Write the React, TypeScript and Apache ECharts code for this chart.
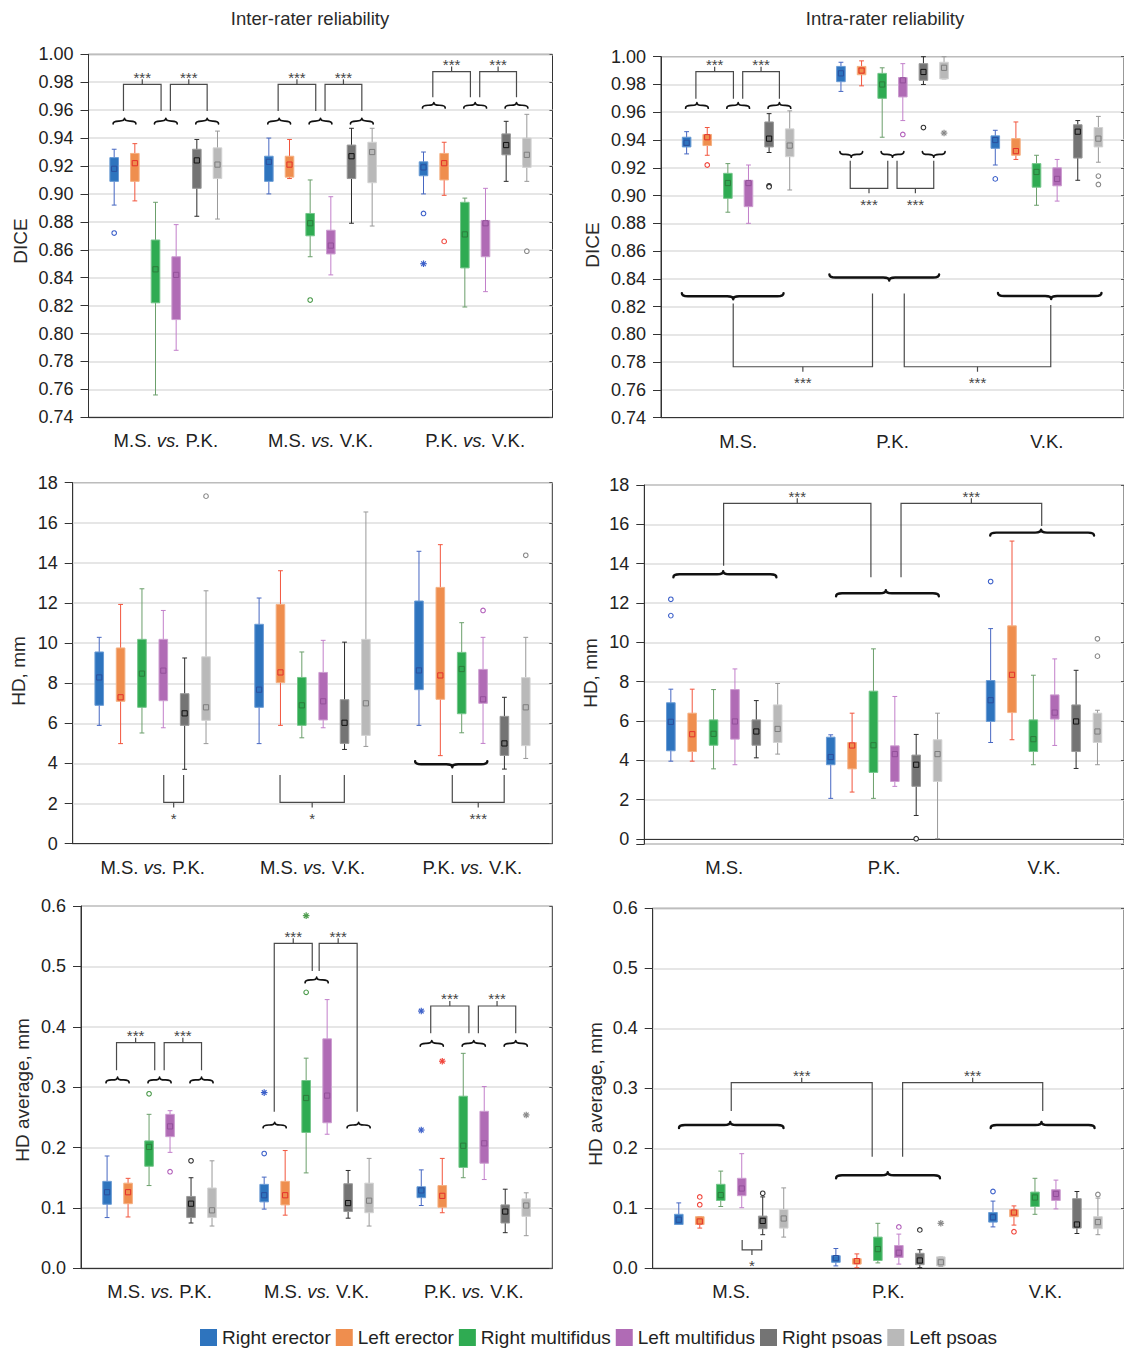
import React, { useEffect, useRef } from 'react';
import * as echarts from 'echarts';

const FONT = '"Liberation Sans", Arial, Helvetica, sans-serif';

const MUSCLES = ['Right erector', 'Left erector', 'Right multifidus', 'Left multifidus', 'Right psoas', 'Left psoas'];
const INTER_CATS = ['M.S. vs. P.K.', 'M.S. vs. V.K.', 'P.K. vs. V.K.'];
const INTRA_CATS = ['M.S.', 'P.K.', 'V.K.'];

// each box: [lower whisker, Q1, Q3, upper whisker, mean]; order of muscles as MUSCLES; 3 categories each
const diceInter = [
  [[0.892, 0.909, 0.926, 0.932, 0.918], [0.900, 0.909, 0.927, 0.940, 0.923], [0.900, 0.913, 0.923, 0.930, 0.919]],
  [[0.895, 0.909, 0.929, 0.936, 0.922], [0.911, 0.912, 0.927, 0.939, 0.921], [0.899, 0.910, 0.929, 0.937, 0.922]],
  [[0.756, 0.822, 0.867, 0.894, 0.846], [0.855, 0.870, 0.886, 0.910, 0.879], [0.819, 0.847, 0.894, 0.897, 0.871]],
  [[0.788, 0.810, 0.855, 0.878, 0.842], [0.842, 0.857, 0.874, 0.898, 0.863], [0.830, 0.855, 0.881, 0.904, 0.879]],
  [[0.884, 0.904, 0.932, 0.939, 0.924], [0.879, 0.911, 0.935, 0.947, 0.927], [0.909, 0.928, 0.943, 0.952, 0.935]],
  [[0.882, 0.911, 0.933, 0.945, 0.921], [0.877, 0.908, 0.937, 0.947, 0.930], [0.909, 0.919, 0.940, 0.957, 0.928]],
];
const diceIntra = [
  [[0.930, 0.935, 0.942, 0.946, 0.938], [0.975, 0.982, 0.993, 0.996, 0.988], [0.922, 0.934, 0.943, 0.947, 0.940]],
  [[0.929, 0.936, 0.944, 0.949, 0.942], [0.979, 0.987, 0.993, 0.997, 0.990], [0.926, 0.929, 0.941, 0.953, 0.932]],
  [[0.888, 0.898, 0.916, 0.923, 0.909], [0.942, 0.970, 0.988, 0.992, 0.980], [0.893, 0.906, 0.923, 0.929, 0.917]],
  [[0.880, 0.892, 0.911, 0.922, 0.909], [0.954, 0.971, 0.985, 0.995, 0.983], [0.896, 0.907, 0.920, 0.926, 0.912]],
  [[0.931, 0.935, 0.953, 0.959, 0.941], [0.980, 0.983, 0.995, 1.000, 0.989], [0.911, 0.927, 0.951, 0.954, 0.946]],
  [[0.904, 0.928, 0.948, 0.961, 0.936], [0.984, 0.984, 0.996, 1.000, 0.992], [0.924, 0.935, 0.949, 0.957, 0.941]],
];
const hdInter = [
  [[5.9, 6.9, 9.56, 10.29, 8.29], [4.99, 6.8, 10.94, 12.25, 7.68], [5.9, 7.68, 12.1, 14.58, 8.64]],
  [[4.99, 7.1, 9.76, 11.93, 7.3], [5.9, 8.03, 11.93, 13.61, 8.54], [4.39, 7.2, 12.78, 14.91, 8.39]],
  [[5.52, 6.8, 10.19, 12.71, 8.48], [5.28, 5.9, 8.29, 9.56, 6.9], [5.53, 6.48, 9.54, 11.02, 8.71]],
  [[5.78, 7.13, 10.19, 11.63, 8.63], [5.78, 6.17, 8.54, 10.14, 7.1], [5.0, 7.0, 8.69, 10.29, 7.2]],
  [[3.71, 5.9, 7.48, 9.26, 6.5], [4.7, 5.0, 7.18, 10.05, 6.03], [3.72, 4.4, 6.35, 7.3, 5.0]],
  [[4.99, 6.15, 9.32, 12.61, 6.8], [4.85, 5.4, 10.19, 16.54, 7.0], [4.25, 4.89, 8.28, 10.29, 6.8]],
];
const hdIntra = [
  [[3.96, 4.49, 6.93, 7.62, 5.96], [2.07, 3.78, 5.18, 5.3, 4.17], [4.91, 5.98, 8.06, 10.7, 7.06]],
  [[3.96, 4.45, 6.4, 7.62, 5.33], [2.39, 3.57, 4.91, 6.4, 4.76], [5.05, 6.43, 10.84, 15.15, 8.35]],
  [[3.57, 4.77, 6.06, 7.6, 5.35], [2.07, 3.39, 7.52, 9.67, 4.77], [3.78, 4.45, 6.06, 8.33, 5.08]],
  [[3.78, 5.08, 7.6, 8.65, 5.98], [2.68, 2.93, 4.74, 7.25, 4.32], [4.76, 6.1, 7.33, 9.16, 6.43]],
  [[4.13, 4.77, 6.06, 7.04, 5.47], [1.2, 2.68, 4.27, 5.32, 3.78], [3.59, 4.45, 6.82, 8.58, 5.98]],
  [[4.32, 4.91, 6.82, 7.91, 5.6], [0.02, 2.93, 5.05, 6.4, 4.32], [3.78, 4.91, 6.4, 6.55, 5.47]],
];
const avgInter = [
  [[0.084, 0.106, 0.144, 0.186, 0.126], [0.098, 0.110, 0.139, 0.151, 0.121], [0.104, 0.117, 0.135, 0.163, 0.129]],
  [[0.085, 0.107, 0.141, 0.149, 0.126], [0.088, 0.105, 0.144, 0.195, 0.121], [0.092, 0.101, 0.137, 0.182, 0.120]],
  [[0.137, 0.169, 0.211, 0.255, 0.201], [0.158, 0.225, 0.311, 0.348, 0.282], [0.150, 0.167, 0.285, 0.356, 0.203]],
  [[0.192, 0.218, 0.255, 0.261, 0.235], [0.222, 0.241, 0.380, 0.445, 0.286], [0.147, 0.174, 0.260, 0.301, 0.207]],
  [[0.075, 0.084, 0.119, 0.150, 0.107], [0.083, 0.094, 0.140, 0.162, 0.108], [0.059, 0.075, 0.105, 0.131, 0.094]],
  [[0.070, 0.084, 0.133, 0.178, 0.096], [0.070, 0.092, 0.141, 0.182, 0.112], [0.054, 0.086, 0.115, 0.125, 0.104]],
];
const avgIntra = [
  [[0.073, 0.073, 0.090, 0.109, 0.081], [0.004, 0.010, 0.021, 0.033, 0.017], [0.069, 0.077, 0.093, 0.112, 0.085]],
  [[0.067, 0.073, 0.086, 0.086, 0.078], [0.001, 0.007, 0.016, 0.024, 0.012], [0.072, 0.086, 0.098, 0.104, 0.093]],
  [[0.103, 0.113, 0.140, 0.162, 0.122], [0.009, 0.013, 0.052, 0.075, 0.032], [0.090, 0.103, 0.127, 0.150, 0.118]],
  [[0.101, 0.121, 0.150, 0.191, 0.133], [0.007, 0.018, 0.038, 0.057, 0.026], [0.099, 0.113, 0.131, 0.147, 0.124]],
  [[0.056, 0.066, 0.087, 0.119, 0.079], [0.001, 0.006, 0.025, 0.031, 0.013], [0.058, 0.067, 0.116, 0.128, 0.073]],
  [[0.052, 0.067, 0.098, 0.134, 0.083], [0.003, 0.004, 0.019, 0.019, 0.010], [0.056, 0.066, 0.086, 0.117, 0.077]],
];

// outliers: [category, muscle, value, kind (0 = circle, 1 = asterisk)]
const diceInterOut = [[0, 0, 0.872, 0], [1, 2, 0.824, 0], [2, 0, 0.886, 0], [2, 0, 0.850, 1], [2, 1, 0.866, 0], [2, 5, 0.859, 0]];
const diceIntraOut = [[0, 1, 0.922, 0], [0, 4, 0.907, 0], [0, 4, 0.9064, 0], [1, 3, 0.944, 0], [1, 4, 0.949, 0], [1, 5, 0.945, 1], [2, 0, 0.912, 0], [2, 5, 0.914, 0], [2, 5, 0.908, 0]];
const hdInterOut = [[0, 5, 17.33, 0], [2, 3, 11.63, 0], [2, 5, 14.38, 0]];
const hdIntraOut = [[0, 0, 12.19, 0], [0, 0, 11.36, 0], [1, 4, 0.02, 0], [2, 0, 13.09, 0], [2, 5, 10.18, 0], [2, 5, 9.3, 0]];
const avgInterOut = [[0, 2, 0.289, 0], [0, 3, 0.160, 0], [0, 4, 0.178, 0], [1, 0, 0.190, 0], [1, 0, 0.291, 1], [1, 2, 0.457, 0], [1, 2, 0.584, 1], [2, 0, 0.426, 1], [2, 0, 0.229, 1], [2, 1, 0.343, 1], [2, 5, 0.254, 1]];
const avgIntraOut = [[0, 1, 0.119, 0], [0, 1, 0.106, 0], [0, 4, 0.125, 0], [1, 3, 0.069, 0], [1, 4, 0.064, 0], [1, 5, 0.075, 1], [2, 0, 0.128, 0], [2, 1, 0.061, 0], [2, 5, 0.123, 0]];

// significance marks (braces & brackets), positioned in muscle-slot units within a category
const pairBraces = (c: number, y: number, dir: number) => [0, 2, 4].map((k) => ({ t: 'brace', c, s0: k - 0.05, s1: k + 1.05, st: k + 0.5, y, dir }));
const pairBrackets = (c: number, y0: number, yb: number, label: string) => [
  { t: 'bracket', c0: c, s0: 0.45, y0, c1: c, s1: 2.27, y1: y0, yb, label },
  { t: 'bracket', c0: c, s0: 2.72, y0, c1: c, s1: 4.5, y1: y0, yb, label },
];
const diceInterMarks = [
  ...pairBraces(0, 0.9522, 1), ...pairBrackets(0, 0.9594, 0.9785, '***'),
  ...pairBraces(1, 0.9522, 1), ...pairBrackets(1, 0.9594, 0.9785, '***'),
  ...pairBraces(2, 0.9635, 1), ...pairBrackets(2, 0.9692, 0.9876, '***'),
];
const diceIntraMarks = [
  ...pairBraces(0, 0.9649, 1), ...pairBrackets(0, 0.9697, 0.9892, '***'),
  ...pairBraces(1, 0.9296, -1), ...pairBrackets(1, 0.925, 0.9052, '***'),
  { t: 'brace', c: 0, s0: -0.23, s1: 4.7, st: 2.26, y: 0.8275, dir: -1, big: true },
  { t: 'brace', c: 1, s0: -0.56, s1: 4.76, st: 2.34, y: 0.841, dir: -1, big: true },
  { t: 'brace', c: 2, s0: 0.13, s1: 5.15, st: 2.71, y: 0.8276, dir: -1, big: true },
  { t: 'bracket', c0: 0, s0: 2.26, y0: 0.8223, c1: 1, s1: 1.53, y1: 0.8295, yb: 0.7767, label: '***' },
  { t: 'bracket', c0: 1, s0: 3.07, y0: 0.8295, c1: 2, s1: 2.69, y1: 0.8211, yb: 0.7767, label: '***' },
];
const hdInterMarks = [
  { t: 'bracket', c0: 0, s0: 3.02, y0: 3.42, c1: 0, s1: 3.95, y1: 3.42, yb: 2.06, label: '*' },
  { t: 'bracket', c0: 1, s0: 0.98, y0: 3.42, c1: 1, s1: 3.99, y1: 3.42, yb: 2.06, label: '*' },
  { t: 'brace', c: 2, s0: -0.18, s1: 3.2, st: 1.56, y: 3.96, dir: -1, big: true },
  { t: 'bracket', c0: 2, s0: 1.56, y0: 3.42, c1: 2, s1: 3.99, y1: 3.42, yb: 2.06, label: '***' },
];
const hdIntraMarks = [
  { t: 'brace', c: 0, s0: 0.12, s1: 4.94, st: 2.45, y: 13.46, dir: 1, big: true },
  { t: 'brace', c: 1, s0: 0.25, s1: 5.06, st: 2.58, y: 12.5, dir: 1, big: true },
  { t: 'brace', c: 2, s0: -0.02, s1: 4.84, st: 2.36, y: 15.58, dir: 1, big: true },
  { t: 'bracket', c0: 0, s0: 2.47, y0: 13.9, c1: 1, s1: 1.88, y1: 13.31, yb: 17.07, label: '***' },
  { t: 'bracket', c0: 1, s0: 3.29, y0: 13.31, c1: 2, s1: 2.39, y1: 15.92, yb: 17.07, label: '***' },
];
const avgInterMarks = [
  ...pairBraces(0, 0.3119, 1), ...pairBrackets(0, 0.3279, 0.3737, '***'),
  { t: 'brace', c: 1, s0: -0.05, s1: 1.05, st: 0.5, y: 0.2373, dir: 1 },
  { t: 'brace', c: 1, s0: 1.95, s1: 3.05, st: 2.5, y: 0.4775, dir: 1 },
  { t: 'brace', c: 1, s0: 3.95, s1: 5.05, st: 4.5, y: 0.2373, dir: 1 },
  { t: 'bracket', c0: 1, s0: 0.48, y0: 0.2594, c1: 1, s1: 2.29, y1: 0.4923, yb: 0.5382, label: '***' },
  { t: 'bracket', c0: 1, s0: 2.62, y0: 0.4923, c1: 1, s1: 4.43, y1: 0.2594, yb: 0.5382, label: '***' },
  ...pairBraces(2, 0.3726, 1), ...pairBrackets(2, 0.3891, 0.4344, '***'),
];
const avgIntraMarks = [
  { t: 'brace', c: 0, s0: 0.01, s1: 4.99, st: 2.45, y: 0.2389, dir: 1, big: true },
  { t: 'brace', c: 1, s0: 0.01, s1: 4.96, st: 2.47, y: 0.155, dir: 1, big: true },
  { t: 'brace', c: 2, s0: -0.11, s1: 4.84, st: 2.31, y: 0.2389, dir: 1, big: true },
  { t: 'bracket', c0: 0, s0: 2.5, y0: 0.2622, c1: 1, s1: 1.73, y1: 0.1861, yb: 0.3094, label: '***' },
  { t: 'bracket', c0: 1, s0: 3.18, y0: 0.1861, c1: 2, s1: 2.37, y1: 0.2622, yb: 0.3094, label: '***' },
  { t: 'bracket', c0: 0, s0: 3.02, y0: 0.0472, c1: 0, s1: 3.95, y1: 0.0472, yb: 0.0306, label: '*' },
];

// styling
const BOX = ['#2E74BE', '#EF8E4E', '#2FAB52', '#B06BB5', '#747474', '#B9B9B9'];
const EDGE = ['#6A9BD4', '#F4B083', '#74C58A', '#CC9DD0', '#9A9A9A', '#D3D3D3'];
const WHISK = ['#4667C2', '#F2553D', '#6B9F6B', '#C27FCA', '#2B2B2B', '#999999'];
const MEAN = ['#2B4F9E', '#E4312B', '#2C7D3C', '#93509A', '#111111', '#7E7E7E'];
const OUT = ['#3B5FC9', '#F0443A', '#4A9A4A', '#B25FBA', '#333333', '#888888'];
const SLOT = 0.1336;

const PANELS = [
  { data: diceInter, out: diceInterOut, marks: diceInterMarks, cats: INTER_CATS, left: 88.5, top: 54.3, width: 464, height: 363, min: 0.74, max: 1.0, interval: 0.02, dec: 2 },
  { data: diceIntra, out: diceIntraOut, marks: diceIntraMarks, cats: INTRA_CATS, left: 661, top: 56.7, width: 465, height: 361, min: 0.74, max: 1.0, interval: 0.02, dec: 2 },
  { data: hdInter, out: hdInterOut, marks: hdInterMarks, cats: INTER_CATS, left: 72.7, top: 482.7, width: 479.6, height: 361, min: 0, max: 18, interval: 2, dec: 0 },
  { data: hdIntra, out: hdIntraOut, marks: hdIntraMarks, cats: INTRA_CATS, left: 644.3, top: 485, width: 481.7, height: 359, min: -0.25, max: 18, interval: null, dec: 0 },
  { data: avgInter, out: avgInterOut, marks: avgInterMarks, cats: INTER_CATS, left: 81, top: 906, width: 471.3, height: 362.3, min: 0, max: 0.6, interval: 0.1, dec: 1 },
  { data: avgIntra, out: avgIntraOut, marks: avgIntraMarks, cats: INTRA_CATS, left: 652.7, top: 908.3, width: 472.7, height: 360, min: 0, max: 0.6, interval: 0.1, dec: 1 },
];

const TEXTS = [
  { text: 'Inter-rater reliability', x: 310, y: 18, rot: 0, size: 18.5 },
  { text: 'Intra-rater reliability', x: 885, y: 18, rot: 0, size: 18.5 },
  { text: 'DICE', x: 20, y: 241, rot: 1, size: 19 },
  { text: 'DICE', x: 592, y: 245, rot: 1, size: 19 },
  { text: 'HD, mm', x: 18, y: 671, rot: 1, size: 19 },
  { text: 'HD, mm', x: 590, y: 673, rot: 1, size: 19 },
  { text: 'HD average, mm', x: 22, y: 1090, rot: 1, size: 19 },
  { text: 'HD average, mm', x: 595, y: 1094, rot: 1, size: 19 },
];

function slotX(api: any, cat: number, s: number) {
  const band = api.size([1, 0])[0];
  return api.coord([cat, 0])[0] + (s - 2.5) * band * SLOT;
}

function bracePath(x0: number, x1: number, xt: number, y: number, dir: number, h: number) {
  const d = dir === 1 ? -1 : 1; // screen direction of the tip
  const ye = y - d * h / 2;
  const yt = y + d * h / 2;
  const r = Math.min(h, (xt - x0) / 2, (x1 - xt) / 2);
  return `M${x0},${ye} Q${x0},${y} ${x0 + r},${y} L${xt - r},${y} Q${xt},${y} ${xt},${yt} Q${xt},${y} ${xt + r},${y} L${x1 - r},${y} Q${x1},${y} ${x1},${ye}`;
}

function boxRenderer(k: number) {
  return (params: any, api: any) => {
    const cat = api.value(0);
    const x = slotX(api, cat, k);
    const Y = (v: number) => api.coord([cat, v])[1];
    const lo = Y(api.value(1)), q1 = Y(api.value(2)), q3 = Y(api.value(3)), hi = Y(api.value(4)), mn = Y(api.value(5));
    const hw = 4.3, cw = 2.4, ms = 2.6;
    return {
      type: 'group',
      children: [
        { type: 'line', shape: { x1: x, y1: hi, x2: x, y2: lo }, style: { stroke: WHISK[k], lineWidth: 1 } },
        { type: 'line', shape: { x1: x - cw, y1: hi, x2: x + cw, y2: hi }, style: { stroke: WHISK[k], lineWidth: 1 } },
        { type: 'line', shape: { x1: x - cw, y1: lo, x2: x + cw, y2: lo }, style: { stroke: WHISK[k], lineWidth: 1 } },
        { type: 'rect', shape: { x: x - hw, y: q3, width: hw * 2, height: Math.max(q1 - q3, 0.5) }, style: { fill: BOX[k], stroke: EDGE[k], lineWidth: 1 } },
        { type: 'rect', shape: { x: x - ms, y: mn - ms, width: ms * 2, height: ms * 2 }, style: { fill: 'none', stroke: MEAN[k], lineWidth: 1 } },
      ],
    };
  };
}

function outlierRenderer(params: any, api: any) {
  const cat = api.value(0), k = api.value(1), v = api.value(2), kind = api.value(3);
  const x = slotX(api, cat, k);
  const y = api.coord([cat, v])[1];
  const col = OUT[k];
  if (kind === 0) {
    return { type: 'circle', shape: { cx: x, cy: y, r: 2.3 }, style: { fill: '#fff', stroke: col, lineWidth: 1.1 } };
  }
  const r = 3.3;
  return {
    type: 'group',
    children: [0, 1, 2, 3].map((i) => {
      const a = (i * Math.PI) / 4;
      return { type: 'line', shape: { x1: x - r * Math.cos(a), y1: y - r * Math.sin(a), x2: x + r * Math.cos(a), y2: y + r * Math.sin(a) }, style: { stroke: col, lineWidth: 1.2 } };
    }),
  };
}

function markRenderer(marks: any[]) {
  return (params: any, api: any) => {
    const m = marks[params.dataIndex];
    const Y = (v: number) => api.coord([0, v])[1];
    if (m.t === 'brace') {
      const x0 = slotX(api, m.c, m.s0), x1 = slotX(api, m.c, m.s1), xt = slotX(api, m.c, m.st);
      const h = m.big ? 6 : 5.5;
      return {
        type: 'path',
        shape: { pathData: bracePath(x0, x1, xt, Y(m.y), m.dir, h) },
        style: { fill: 'none', stroke: '#111', lineWidth: m.big ? 2.4 : 1.7, lineCap: 'round', lineJoin: 'round' },
      };
    }
    const xa = slotX(api, m.c0, m.s0), xb = slotX(api, m.c1, m.s1);
    const ya = Y(m.y0), yb = Y(m.y1), yBar = Y(m.yb);
    const up = yBar < ya;
    const xm = (xa + xb) / 2;
    const stemEnd = yBar + (up ? -5 : 5);
    const ty = up ? yBar - 7 : yBar + 16;
    return {
      type: 'group',
      children: [
        { type: 'polyline', shape: { points: [[xa, ya], [xa, yBar], [xb, yBar], [xb, yb]] }, style: { fill: 'none', stroke: '#4a4a4a', lineWidth: 1.2 } },
        { type: 'line', shape: { x1: xm, y1: yBar, x2: xm, y2: stemEnd }, style: { stroke: '#4a4a4a', lineWidth: 1.2 } },
        { type: 'text', x: xm, y: ty, style: { text: m.label, fill: '#444', fontSize: 15, fontFamily: FONT, textAlign: 'center', textVerticalAlign: 'middle' } },
      ],
    };
  };
}

function catFormatter(v: string) {
  const p = v.split(' vs. ');
  return p.length === 2 ? `{n|${p[0]} }{i|vs.}{n| ${p[1]}}` : `{n|${v}}`;
}

function buildOption() {
  const grid: any[] = [];
  const xAxis: any[] = [];
  const yAxis: any[] = [];
  const series: any[] = [];
  PANELS.forEach((p, i) => {
    grid.push({ left: p.left, top: p.top, width: p.width, height: p.height, show: true, borderColor: '#333', borderWidth: 1, backgroundColor: 'transparent' });
    xAxis.push({
      type: 'category', gridIndex: i, data: p.cats, boundaryGap: true,
      axisLine: { lineStyle: { color: '#333', width: 1 } },
      axisTick: { alignWithLabel: true, length: 8, lineStyle: { color: '#333' } },
      axisLabel: {
        interval: 0, margin: 14, formatter: catFormatter,
        rich: {
          n: { fontSize: 18.5, fontFamily: FONT, color: '#222' },
          i: { fontSize: 18.5, fontFamily: FONT, color: '#222', fontStyle: 'italic' },
        },
      },
      splitLine: { show: false },
    });
    const yBase: any = { type: 'value', gridIndex: i, min: p.min, max: p.max };
    if (p.interval) yBase.interval = p.interval; else yBase.splitNumber = 9;
    const fmt = (v: number) => (v < 0 ? '' : v.toFixed(p.dec));
    yAxis.push({
      ...yBase, position: 'left',
      axisLine: { show: true, lineStyle: { color: '#333', width: 1 } },
      axisTick: { show: true, length: 8, lineStyle: { color: '#333' } },
      axisLabel: { fontSize: 18, fontFamily: FONT, color: '#222', margin: 15, formatter: fmt },
      splitLine: { show: true, lineStyle: { color: '#dedede', width: 1.5 } },
    });
    yAxis.push({
      ...yBase, position: 'right',
      axisLine: { show: false },
      axisTick: { show: true, inside: true, length: 3, lineStyle: { color: '#555' } },
      axisLabel: { show: false },
      splitLine: { show: false },
    });
    const yIdx = i * 2;
    for (let k = 0; k < 6; k++) {
      series.push({
        type: 'custom', name: MUSCLES[k], xAxisIndex: i, yAxisIndex: yIdx,
        itemStyle: { color: BOX[k] },
        encode: { x: 0, y: [1, 2, 3, 4, 5] },
        data: p.data[k].map((b, c) => [c, ...b]),
        renderItem: boxRenderer(k), silent: true, z: 3,
      });
    }
    series.push({
      type: 'custom', name: 'outliers', xAxisIndex: i, yAxisIndex: yIdx,
      encode: { x: 0, y: 2 }, data: p.out, renderItem: outlierRenderer, silent: true, z: 4,
    });
    series.push({
      type: 'custom', name: 'significance', xAxisIndex: i, yAxisIndex: yIdx,
      encode: { x: 0, y: 1 },
      data: p.marks.map((m: any) => [m.t === 'brace' ? m.c : m.c0, m.t === 'brace' ? m.y : m.yb]),
      renderItem: markRenderer(p.marks), silent: true, z: 5,
    });
  });
  return {
    animation: false,
    backgroundColor: '#ffffff',
    grid, xAxis, yAxis, series,
    legend: {
      data: MUSCLES, left: 200, top: 1328, padding: 0, itemGap: 5, itemWidth: 17, itemHeight: 17, icon: 'rect',
      selectedMode: false, textStyle: { fontSize: 19, fontFamily: FONT, color: '#222' },
    },
    graphic: TEXTS.map((t) => ({
      type: 'text', x: t.x, y: t.y, rotation: t.rot ? Math.PI / 2 : 0,
      style: { text: t.text, fontSize: t.size, fontFamily: FONT, fill: '#2a2a2a', textAlign: 'center', textVerticalAlign: 'middle' },
    })),
  };
}

export default function App() {
  const ref = useRef<HTMLDivElement>(null);
  useEffect(() => {
    if (!ref.current) return;
    const chart = echarts.init(ref.current, undefined, { renderer: 'svg' });
    chart.setOption(buildOption() as any);
    return () => chart.dispose();
  }, []);
  return <div ref={ref} style={{ position: 'absolute', left: 0, top: 0, width: 1124, height: 1351, background: '#fff' }} />;
}
